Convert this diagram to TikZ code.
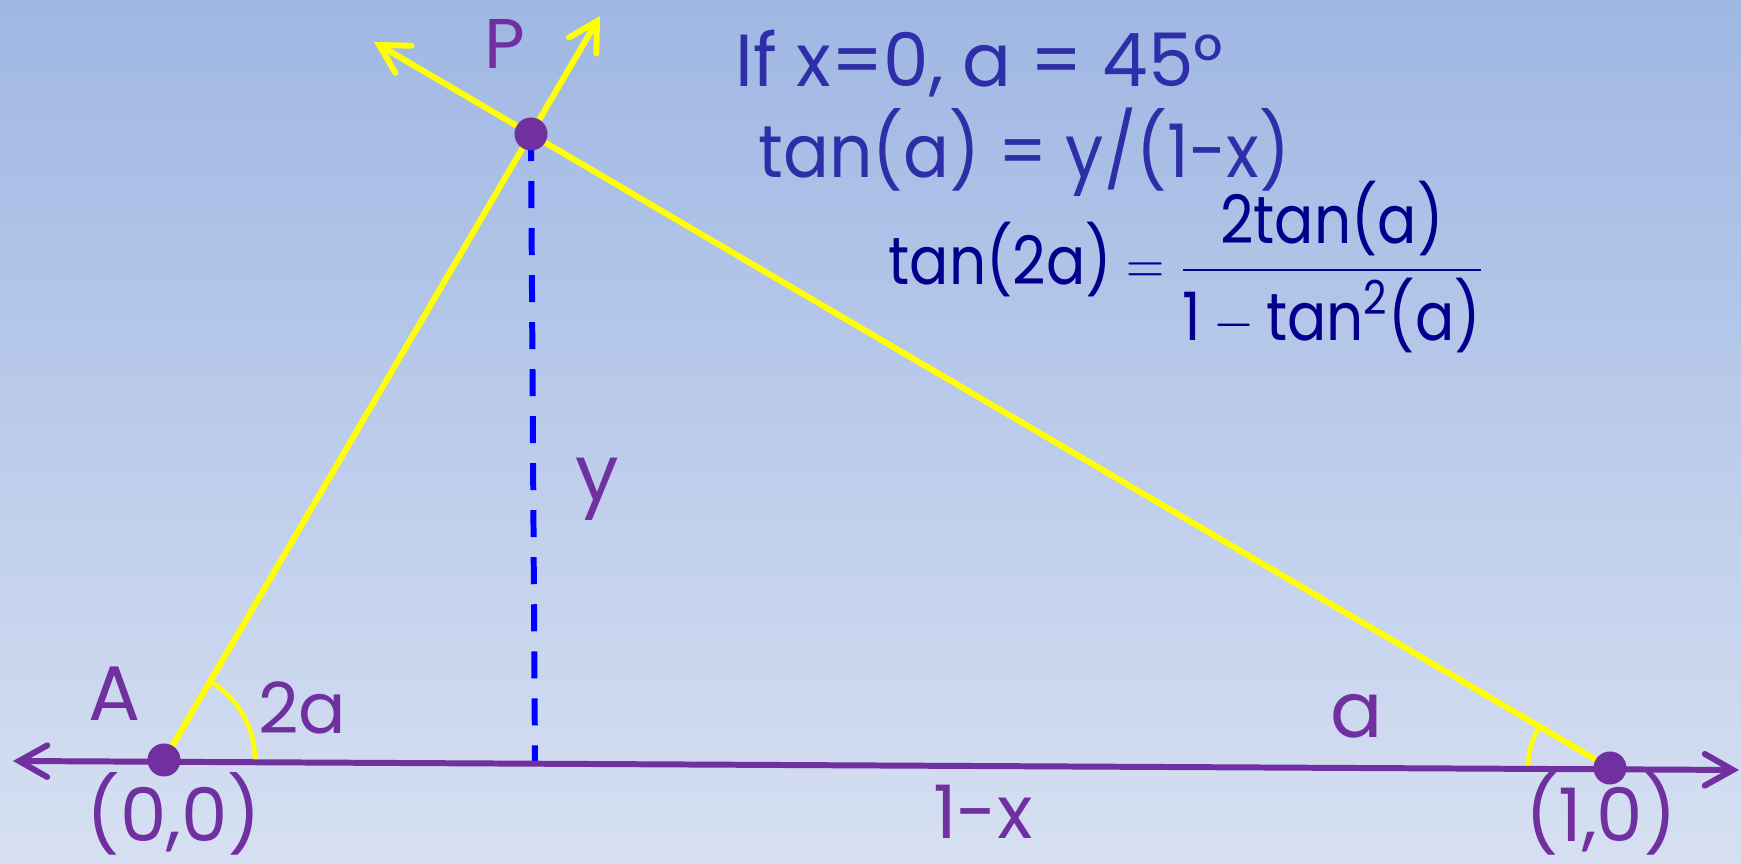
\documentclass[tikz,border=0pt]{standalone}
\usepackage{amsmath}
\usepackage{fontspec}
\setmainfont{Poppins}
\usepackage{tikz}
\usetikzlibrary{arrows.meta}
\definecolor{roxo}{HTML}{7030A0}
\definecolor{amarelo}{HTML}{FFFF00}
\definecolor{azul}{HTML}{0000FF}
\definecolor{anil}{HTML}{2E2EA8}
\definecolor{marinho}{HTML}{00008C}
\definecolor{ceuA}{HTML}{9FB7E3}
\definecolor{ceuB}{HTML}{D7E0F2}
\newcommand{\corEixo}{roxo}
\newcommand{\corLado}{amarelo}
\newcommand{\corAltura}{azul}
\newcommand{\corTexto}{anil}
\newcommand{\corFormula}{marinho}
\newcommand{\estreito}[2]{\scalebox{#1}[1]{#2}}

\begin{document}
\begin{tikzpicture}[x=0.01cm, y=0.01cm,
    lado/.style={draw=\corLado, line width=1.7pt},
    seta/.style={-{Straight Barb[length=8pt,width=9pt,line cap=round]}},
    eixo/.style={draw=\corEixo, line width=1.7pt,
      {Straight Barb[length=8pt,width=9pt,line cap=round]}-{Straight Barb[length=8pt,width=9pt,line cap=round]}},
    ponto/.style={circle, fill=\corEixo, inner sep=0pt, minimum size=0.33cm},
    rotulo/.style={text=\corEixo, font=\fontsize{22}{26}\selectfont, inner sep=0pt},
    conta/.style={text=\corTexto, font=\fontsize{21}{25}\selectfont, inner sep=0pt}]

      % fundo
    \shade[top color=ceuA, bottom color=ceuB] (0,0) rectangle (1741,864);
    \useasboundingbox (0,0) rectangle (1741,864);

      % pontos
    \coordinate (A) at (164,104);
    \coordinate (B) at (1610,96);
    \coordinate (P) at (531,730);
    \coordinate (pe) at (535,102);
    \coordinate (pontaAP) at (600,848);
    \coordinate (pontaBP) at (374,822);
    \coordinate (eixoE) at (13,103);
    \coordinate (eixoD) at (1739,94);

      % altura y
    \draw[draw=\corAltura, line width=1.7pt, dash pattern=on 0.27cm off 0.2cm] (P) -- (pe);

      % lados
    \draw[lado, seta] (A) -- (pontaAP);
    \draw[lado, seta] (B) -- (pontaBP);

      % angulos
    \draw[draw=\corLado, line width=1.3pt] (A) ++(0:0.91cm) arc[start angle=0, end angle=59.6, radius=0.91cm];
    \draw[draw=\corLado, line width=1.3pt] (B) ++(149.6:0.82cm) arc[start angle=149.6, end angle=180, radius=0.82cm];

      % eixo
    \draw[eixo] (eixoE) -- (eixoD);

    \node[ponto] (ptA) at (A) {};
    \node[ponto] (ptB) at (B) {};
    \node[ponto] (ptP) at (P) {};

      % rotulos
    \node[rotulo, font=\fontsize{20}{24}\selectfont] (rP) at (505,820) {P};
    \node[rotulo] (rA) at (115,170) {A};
    \node[rotulo, font=\fontsize{20}{24}\selectfont] (r2a) at (302,156) {2a};
    \node[rotulo] (ra) at (1357,148) {a};
    \node[rotulo] (ry) at (597,375) {y};
    \node[rotulo, font=\fontsize{21}{25}\selectfont] (r00) at (174,50) {(0,0)};
    \node[rotulo, font=\fontsize{21}{25}\selectfont] (r10) at (1601,50) {(1,0)};
    \node[rotulo, font=\fontsize{21}{25}\selectfont] (r1x) at (983,52) {1-x};

      % contas
    \node[conta, anchor=base west] (se) at (735,777) {\estreito{0.98}{If x=0, a = 45°}};
    \node[conta, anchor=base west] (tg) at (758,686) {\estreito{0.92}{tan(a) = y/(1-x)}};
    \node[conta, text=\corFormula, font=\fontsize{19}{23}\selectfont, anchor=base west] (tg2) at (888,579)
      {\estreito{0.87}{\(\text{tan(2a)} = \dfrac{\text{2tan(a)}}{\text{1}-\text{tan}^{\text{2}}\text{(a)}}\)}};
\end{tikzpicture}
\end{document}
